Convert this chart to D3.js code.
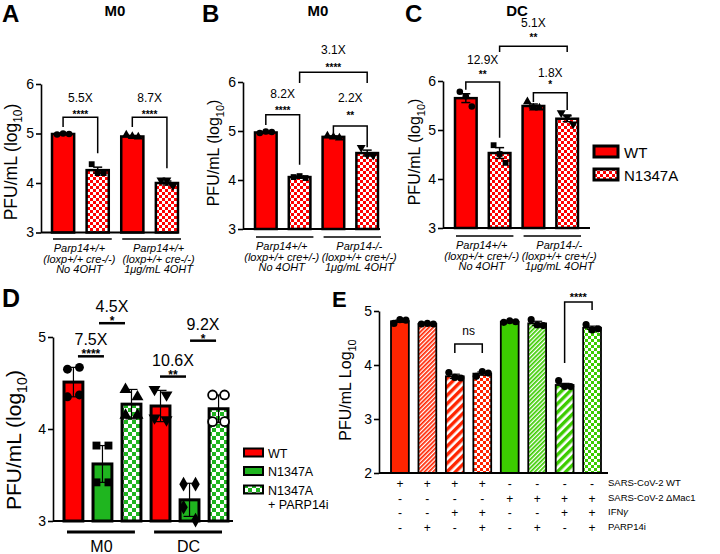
<!DOCTYPE html>
<html><head><meta charset="utf-8">
<script src="https://cdn.jsdelivr.net/npm/d3@7"></script>
<style>body{margin:0;background:#fff} svg{display:block;font-family:"Liberation Sans",Arial,sans-serif}</style>
</head><body><svg id="c" width="720" height="554"></svg>
<script>
// ---------------- DATA ----------------
const abcTicks = [3, 4, 5, 6];
const panelAValues = [4.99, 4.26, 4.94, 4.00];
const panelAErr = [0.01, 0.06, 0.02, 0.04];
const panelAPoints = [[4.98, 5.00, 4.99], [4.38, 4.20, 4.20], [4.97, 4.94, 4.93], [4.06, 4.06, 3.94]];
const panelBValues = [4.97, 4.06, 4.88, 4.55];
const panelBErr = [0.02, 0.02, 0.02, 0.06];
const panelBPoints = [[4.96, 4.99, 4.98], [4.06, 4.08, 4.04], [4.90, 4.88, 4.86], [4.66, 4.52, 4.50]];
const panelCValues = [5.65, 4.53, 5.49, 5.23];
const panelCErr = [0.09, 0.11, 0.04, 0.06];
const panelCPoints = [[5.78, 5.69, 5.48], [4.69, 4.51, 4.33], [5.58, 5.45, 5.45], [5.35, 5.27, 5.12]];
const groupLabelsA = [["Parp14+/+", "(loxp+/+ cre-/-)", "No 4OHT"], ["Parp14+/+", "(loxp+/+ cre-/-)", "1μg/mL 4OHT"]];
const groupLabelsB = [["Parp14+/+", "(loxp+/+ cre+/-)", "No 4OHT"], ["Parp14-/-", "(loxp+/+ cre+/-)", "1μg/mL 4OHT"]];
const groupLabelsC = groupLabelsB;
const legendABC = ["WT", "N1347A"];

const panelDTicks = [3, 4, 5];
const panelDValues = [4.51, 3.62, 4.27, 4.25, 3.23, 4.22];
const panelDErr = [0.16, 0.20, 0.16, 0.17, 0.18, 0.15];
const panelDPoints = [[4.65, 4.67, 4.35, 4.37], [3.82, 3.82, 3.42, 3.42], [4.43, 4.35, 4.15, 4.15],
                      [4.43, 4.37, 4.12, 4.10], [3.40, 3.40, 3.15, 3.01], [4.37, 4.37, 4.08, 4.08]];
const panelDGroups = ["M0", "DC"];
const legendD = ["WT", "N1347A", "N1347A\n+ PARP14i"];

const panelETicks = [2, 3, 4, 5];
const panelEValues = [4.81, 4.76, 3.79, 3.84, 4.80, 4.77, 3.63, 4.69];
const panelEErr = [0.02, 0.01, 0.04, 0.03, 0.01, 0.04, 0.03, 0.03];
const panelEPoints = [[4.77, 4.84, 4.83], [4.76, 4.77, 4.76], [3.86, 3.77, 3.76], [3.79, 3.88, 3.85],
                      [4.79, 4.82, 4.80], [4.84, 4.74, 4.73], [3.71, 3.60, 3.60], [4.75, 4.65, 4.67]];
const tableRowLabels = ["SARS-CoV-2 WT", "SARS-CoV-2 ΔMac1", "IFNγ", "PARP14i"];
const tableRows = [["+", "+", "+", "+", "-", "-", "-", "-"],
                   ["-", "-", "-", "-", "+", "+", "+", "+"],
                   ["-", "-", "+", "+", "-", "-", "+", "+"],
                   ["-", "+", "-", "+", "-", "+", "-", "+"]];

// ---------------- DRAW ----------------
const svg = d3.select("#c");
const defs = svg.append("defs");
const RED = "#ff0000", GREEN_D = "#1fb51f", RED_E = "#ff2400", GREEN_E = "#3ccc00";

function checker(id, color, s) {
  const p = defs.append("pattern").attr("id", id).attr("width", 2 * s).attr("height", 2 * s).attr("patternUnits", "userSpaceOnUse");
  p.append("rect").attr("width", 2 * s).attr("height", 2 * s).attr("fill", "#fff");
  p.append("rect").attr("width", s).attr("height", s).attr("fill", color);
  p.append("rect").attr("x", s).attr("y", s).attr("width", s).attr("height", s).attr("fill", color);
}
function stripes(id, color, period, w) {
  const p = defs.append("pattern").attr("id", id).attr("width", period).attr("height", period)
    .attr("patternUnits", "userSpaceOnUse").attr("patternTransform", "rotate(45)");
  p.append("rect").attr("width", period).attr("height", period).attr("fill", "#fff");
  p.append("rect").attr("width", w).attr("height", period).attr("fill", color);
}
checker("chkR", RED, 3);
checker("chkG", GREEN_D, 4);
checker("chkRE", RED_E, 3);
checker("chkGE", GREEN_E, 3);
stripes("fineR", RED_E, 3, 1.7);
stripes("fineG", GREEN_E, 3, 1.7);
stripes("strR", RED_E, 6, 3.4);
stripes("strG", GREEN_E, 6, 3.4);

const invTri = { draw(ctx, size) { d3.symbolTriangle.draw({ moveTo: (x, y) => ctx.moveTo(x, -y), lineTo: (x, y) => ctx.lineTo(x, -y), closePath: () => ctx.closePath() }, size); } };

function barPanel(o) {
  const n = o.values.length;
  const x = d3.scaleBand().domain(d3.range(n)).range([o.x0, o.x1]).paddingInner(o.pad);
  const y = d3.scaleLinear().domain(o.domain).range([o.yBot, o.yTop]);
  const g = svg.append("g");
  const bw = x.bandwidth();
  g.selectAll("rect.bar").data(o.values).join("rect")
    .attr("x", (d, i) => x(i)).attr("y", d => y(d)).attr("width", bw)
    .attr("height", d => y(o.domain[0]) - y(d))
    .attr("fill", (d, i) => o.fills[i]).attr("stroke", "#000").attr("stroke-width", o.sw);
  // error bars
  o.values.forEach((m, i) => {
    const cx = x(i) + bw / 2, e = o.err[i];
    const eg = g.append("g").attr("stroke", "#000").attr("stroke-width", o.ew);
    eg.append("line").attr("x1", cx).attr("x2", cx).attr("y1", y(m - e)).attr("y2", y(m + e));
    [m - e, m + e].forEach(v => eg.append("line").attr("x1", cx - o.cap / 2).attr("x2", cx + o.cap / 2).attr("y1", y(v)).attr("y2", y(v)));
  });
  // points
  o.points.forEach((pts, i) => {
    const cx = x(i) + bw / 2;
    const type = o.symbols[i];
    pts.forEach((v, j) => {
      const sym = d3.symbol().type(type === "inv" ? invTri : type === "open" ? d3.symbolCircle : type).size(o.symSize);
      g.append("path").attr("d", sym()).attr("transform", `translate(${cx + o.offsets[j]},${y(v)})`)
        .attr("fill", type === "open" ? "#fff" : "#000").attr("stroke", "#000").attr("stroke-width", type === "open" ? 1.8 : 0);
    });
  });
  // y axis
  const ag = g.append("g").attr("transform", `translate(${o.axisX},0)`)
    .call(d3.axisLeft(y).tickValues(o.ticks).tickSize(5).tickSizeOuter(0).tickFormat(d3.format("d")).tickPadding(2));
  ag.select(".domain").attr("stroke-width", 1.6);
  ag.selectAll(".tick line").attr("stroke-width", 1.6);
  ag.selectAll(".tick text").attr("font-size", o.tickFs).attr("font-family", "Liberation Sans, Arial, sans-serif").attr("fill", "#000");
  // baseline
  g.append("line").attr("x1", o.axisX).attr("x2", o.axisEnd).attr("y1", o.yBot).attr("y2", o.yBot).attr("stroke", "#000").attr("stroke-width", 1.8);
  return { x, y, g, bw };
}

function yLabel(cx, cy, fs, main, sub, tail) {
  const t = svg.append("text").attr("transform", `translate(${cx},${cy}) rotate(-90)`).attr("text-anchor", "middle").attr("font-size", fs);
  t.append("tspan").text(main);
  t.append("tspan").attr("dy", fs * 0.3).attr("font-size", fs * 0.68).text(sub);
  if (tail) t.append("tspan").attr("dy", -fs * 0.3).text(tail);
}
function letter(txt, x, y, fs) { svg.append("text").attr("x", x).attr("y", y).attr("font-size", fs).attr("font-weight", "bold").text(txt); }

function bracket(P, i, j, top, yl, yr, label, labY, stars, starY) {
  const xa = P.x(i) + P.bw / 2, xb = P.x(j) + P.bw / 2;
  const yt = P.y(top);
  svg.append("path").attr("d", `M${xa},${P.y(yl)}V${yt}H${xb}V${P.y(yr)}`).attr("fill", "none").attr("stroke", "#000").attr("stroke-width", 1.5);
  svg.append("text").attr("x", (xa + xb) / 2).attr("y", labY).attr("text-anchor", "middle").attr("font-size", 12).text(label);
  svg.append("text").attr("x", (xa + xb) / 2).attr("y", starY).attr("text-anchor", "middle").attr("font-size", 10).attr("font-weight", "bold").text(stars);
}
const groupShift = [-1, 9];
function groupLabels(P, labels, lineY) {
  labels.forEach((lines, k) => {
    const a = P.x(2 * k), b = P.x(2 * k + 1) + P.bw;
    svg.append("line").attr("x1", a + 1).attr("x2", b + 3).attr("y1", lineY).attr("y2", lineY).attr("stroke", "#000").attr("stroke-width", 1.5);
    lines.forEach((s, r) => svg.append("text").attr("x", (a + b) / 2 + groupShift[k]).attr("y", lineY + 13 + r * 10.5)
      .attr("text-anchor", "middle").attr("font-size", 11).attr("font-style", "italic").text(s));
  });
}

const abcFills = [RED, "url(#chkR)", RED, "url(#chkR)"];
const abcSyms = [d3.symbolCircle, d3.symbolSquare, d3.symbolTriangle, "inv"];
const common = { pad: 0.36, sw: 2.5, ew: 1.5, cap: 9, domain: [3, 6], ticks: abcTicks, tickFs: 14, fills: abcFills, symbols: abcSyms, symSize: 34, offsets: [-6, 0, 6] };

// Panel A
const PA = barPanel(Object.assign({}, common, { values: panelAValues, err: panelAErr, points: panelAPoints, x0: 52, x1: 178, yBot: 232.5, yTop: 84, axisX: 41, axisEnd: 178 }));
letter("A", 2, 22, 24);
svg.append("text").attr("x", 115).attr("y", 16).attr("text-anchor", "middle").attr("font-size", 15).attr("font-weight", "bold").text("M0");
yLabel(17, 162, 17.5, "PFU/mL (log", "10", ")");
bracket(PA, 0, 1, 5.33, 5.13, 4.6, "5.5X", 102, "****", 118);
bracket(PA, 2, 3, 5.33, 5.13, 4.3, "8.7X", 102, "****", 118);
groupLabels(PA, groupLabelsA, 239);

// Panel B
const PB = barPanel(Object.assign({}, common, { values: panelBValues, err: panelBErr, points: panelBPoints, x0: 255, x1: 378, yBot: 229, yTop: 82, axisX: 243, axisEnd: 380 }));
letter("B", 202, 22, 24);
svg.append("text").attr("x", 318).attr("y", 16).attr("text-anchor", "middle").attr("font-size", 15).attr("font-weight", "bold").text("M0");
yLabel(219, 153, 16, "PFU/mL (log", "10", ")");
bracket(PB, 0, 1, 5.33, 5.12, 4.31, "8.2X", 98, "****", 114);
bracket(PB, 2, 3, 5.1, 4.96, 4.67, "2.2X", 102, "**", 119);
bracket(PB, 1, 3, 6.2, 5.98, 5.98, "3.1X", 54, "****", 71);
groupLabels(PB, groupLabelsB, 237);

// Panel C
const PC = barPanel(Object.assign({}, common, { values: panelCValues, err: panelCErr, points: panelCPoints, x0: 455, x1: 578, yBot: 228, yTop: 81, axisX: 443, axisEnd: 590 }));
letter("C", 405, 22, 24);
svg.append("text").attr("x", 517).attr("y", 16).attr("text-anchor", "middle").attr("font-size", 15).attr("font-weight", "bold").text("DC");
yLabel(420, 152, 16, "PFU/mL (log", "10", ")");
bracket(PC, 0, 1, 5.98, 5.82, 4.84, "12.9X", 64, "**", 78);
bracket(PC, 2, 3, 5.76, 5.57, 5.41, "1.8X", 77, "*", 88);
bracket(PC, 1, 3, 6.71, 6.59, 6.59, "5.1X", 27, "**", 41);
groupLabels(PC, groupLabelsC, 236);

// Legend ABC
legendABC.forEach((s, i) => {
  svg.append("rect").attr("x", 594).attr("y", 146 + i * 23).attr("width", 24).attr("height", 11)
    .attr("fill", abcFills[i]).attr("stroke", "#000").attr("stroke-width", 3);
  svg.append("text").attr("x", 624).attr("y", 157.5 + i * 23).attr("font-size", 15).text(s);
});

// Panel D
const dFills = [RED, GREEN_D, "url(#chkG)", RED, GREEN_D, "url(#chkG)"];
const PD = barPanel({ values: panelDValues, err: panelDErr, points: panelDPoints, x0: 64, x1: 228, pad: 0.35, sw: 3, ew: 1.2, cap: 12,
  domain: [3, 5], ticks: panelDTicks, tickFs: 14, yBot: 521, yTop: 337, axisX: 53, axisEnd: 233, fills: dFills,
  symbols: [d3.symbolCircle, d3.symbolSquare, d3.symbolTriangle, "inv", d3.symbolDiamond, "open"], symSize: 62, offsets: [-6, 6, -6, 6] });
letter("D", 2, 307, 25);
yLabel(21, 440, 21, "PFU/mL (log", "10", ")");
[[0, 1, 4.79, "7.5X", "****", 3], [1, 2, 5.15, "4.5X", "*", -5], [3, 4, 4.57, "10.6X", "**", -2], [4, 5, 4.96, "9.2X", "*", -1]].forEach(([i, j, v, lab, st, dx]) => {
  const cx = (PD.x(i) + PD.x(j) + PD.bw) / 2 + dx, yy = PD.y(v);
  svg.append("line").attr("x1", cx - 13).attr("x2", cx + 13).attr("y1", yy).attr("y2", yy).attr("stroke", "#000").attr("stroke-width", 2.5);
  svg.append("text").attr("x", cx).attr("y", yy - 11).attr("text-anchor", "middle").attr("font-size", 16).text(lab);
  svg.append("text").attr("x", cx).attr("y", yy + 2).attr("text-anchor", "middle").attr("font-size", 12).attr("font-weight", "bold").text(st);
});
panelDGroups.forEach((s, k) => {
  const a = PD.x(3 * k), b = PD.x(3 * k + 2) + PD.bw;
  svg.append("line").attr("x1", a + 3).attr("x2", b - 6).attr("y1", 532).attr("y2", 532).attr("stroke", "#000").attr("stroke-width", 3);
  svg.append("text").attr("x", (a + b) / 2 - 1).attr("y", 552).attr("text-anchor", "middle").attr("font-size", 16).text(s);
});
const dLegFills = [RED, GREEN_D, "url(#chkG)"];
legendD.forEach((s, i) => {
  svg.append("rect").attr("x", 244).attr("y", 448.5 + i * 18.5).attr("width", 19).attr("height", 8)
    .attr("fill", dLegFills[i]).attr("stroke", "#000").attr("stroke-width", 2);
  s.split("\n").forEach((line, r) => svg.append("text").attr("x", 268).attr("y", 457.5 + i * 18.5 + r * 14).attr("font-size", 12.5).text(line));
});

// Panel E
const eFills = [RED_E, "url(#fineR)", "url(#strR)", "url(#chkRE)", GREEN_E, "url(#fineG)", "url(#strG)", "url(#chkGE)"];
const PE = barPanel({ values: panelEValues, err: panelEErr, points: panelEPoints, x0: 391, x1: 601, pad: 0.35, sw: 1.8, ew: 1.2, cap: 10,
  domain: [2, 5], ticks: panelETicks, tickFs: 14, yBot: 473, yTop: 311, axisX: 379, axisEnd: 608, fills: eFills,
  symbols: d3.range(8).map(() => d3.symbolCircle), symSize: 40, offsets: [-6, 0, 6] });
letter("E", 332, 307, 22);
yLabel(351, 390, 16, "PFU/mL Log", "10", null);
{
  const xa = PE.x(2) + PE.bw / 2, xb = PE.x(3) + PE.bw / 2;
  svg.append("path").attr("d", `M${xa},353V344H${xb}V353`).attr("fill", "none").attr("stroke", "#000").attr("stroke-width", 1.5);
  svg.append("text").attr("x", (xa + xb) / 2).attr("y", 335).attr("text-anchor", "middle").attr("font-size", 12).text("ns");
  const xc = PE.x(6) + PE.bw / 2, xd = PE.x(7) + PE.bw / 2;
  svg.append("path").attr("d", `M${xc},363V302H${xd}V310`).attr("fill", "none").attr("stroke", "#000").attr("stroke-width", 1.5);
  svg.append("text").attr("x", (xc + xd) / 2).attr("y", 301).attr("text-anchor", "middle").attr("font-size", 11).attr("font-weight", "bold").text("****");
}
tableRows.forEach((row, r) => {
  row.forEach((s, i) => svg.append("text").attr("x", PE.x(i) + PE.bw / 2).attr("y", 488 + r * 14.7)
    .attr("text-anchor", "middle").attr("font-size", 12).text(s));
  const t = svg.append("text").attr("x", 608).attr("y", 486 + r * 14.7).attr("font-size", 9.5);
  if (tableRowLabels[r] === "IFNγ") { t.append("tspan").text("IFN"); t.append("tspan").attr("font-style", "italic").text("γ"); }
  else t.text(tableRowLabels[r]);
});
</script></body></html>
